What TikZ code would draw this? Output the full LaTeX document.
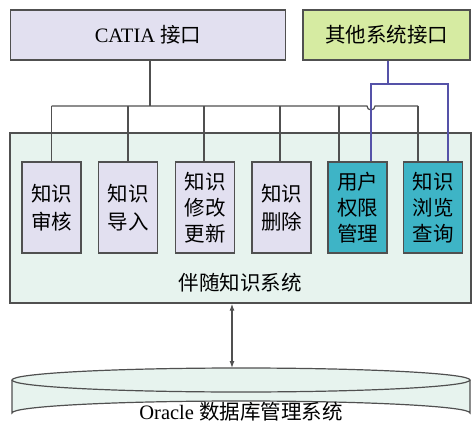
\documentclass[tikz,border=0pt]{standalone}
\usepackage{fontspec}
\setmainfont{Liberation Serif}
\newfontfamily\cjk{Noto Sans CJK SC}
\usetikzlibrary{positioning,arrows.meta}

\definecolor{lav}{HTML}{E2E0F0}
\definecolor{lime}{HTML}{D6EBA2}
\definecolor{pale}{HTML}{E7F3EE}
\definecolor{teal}{HTML}{3EB4C6}
\definecolor{wire}{HTML}{505050}
\definecolor{bluewire}{HTML}{5552A8}

\begin{document}
\begin{tikzpicture}[x=1pt,y=-1pt,
    box/.style={draw=wire,line width=1.3pt,inner sep=0pt,align=center,
                font=\fontsize{20.5}{28}\selectfont},
    modbox/.style={box,fill=lav,minimum width=59,minimum height=91},
    hotbox/.style={modbox,fill=teal},
    line/.style={draw=wire,line width=1.2pt},
    blueline/.style={draw=bluewire,line width=1.2pt},
    >={Latex[length=7pt,width=5pt]}]
    \useasboundingbox (0,0) rectangle (473,430);

    % interfaces
    \node[box,fill=lav,minimum width=275,minimum height=50] (catia) at (148,35) {CATIA {\cjk 接口}};
    \node[box,fill=lime,minimum width=167,minimum height=50] (other) at (386.5,35) {\cjk 其他系统接口};

    % system frame
    \node[box,fill=pale,minimum width=461,minimum height=170] (sys) at (240.5,218) {};
    \node[font=\fontsize{20.5}{28}\selectfont\cjk] (syslabel) at (240,283) {伴随知识系统};

    % modules
    \node[modbox] (m1) at (51.5,207.5) {\cjk 知识\\\cjk 审核};
    \node[modbox] (m2) at (128,207.5) {\cjk 知识\\\cjk 导入};
    \node[modbox,font=\fontsize{20.5}{26}\selectfont] (m3) at (205,207.5) {\cjk 知识\\\cjk 修改\\\cjk 更新};
    \node[modbox] (m4) at (281.5,207.5) {\cjk 知识\\\cjk 删除};
    \node[hotbox,font=\fontsize{20.5}{26}\selectfont] (m5) at (357.5,207.5) {\cjk 用户\\\cjk 权限\\\cjk 管理};
    \node[hotbox,font=\fontsize{20.5}{26}\selectfont] (m6) at (433,207.5) {\cjk 知识\\\cjk 浏览\\\cjk 查询};

    % CATIA bus
    \coordinate (bus) at (150,106);
    \coordinate (hop) at (371,106);
    \draw[line] (catia.south -| bus) -- (bus);
    \draw[line] (m1.north |- bus) -- ([xshift=-4]hop) arc (180:0:4) -- ([xshift=-15]m6.north |- bus);
    \draw[line] (m1.north) -- (m1.north |- bus);
    \draw[line] (m2.north) -- (m2.north |- bus);
    \draw[line] ([xshift=-1]m3.north) -- ([xshift=-1]m3.north |- bus);
    \draw[line] ([xshift=-1.5]m4.north) -- ([xshift=-1.5]m4.north |- bus);
    \draw[line] ([xshift=-18.5]m5.north) -- ([xshift=-18.5]m5.north |- bus);
    \draw[line] ([xshift=-15]m6.north) -- ([xshift=-15]m6.north |- bus);

    % other-system bus
    \coordinate (fork) at (388,84);
    \draw[blueline] ([xshift=1.5]other.south) -- ([xshift=1.5]other.south |- fork);
    \draw[blueline] ([xshift=13.5]m5.north) -- ([xshift=13.5]m5.north |- fork)
        -- ([xshift=15]m6.north |- fork) -- ([xshift=15]m6.north);

    % database
    \fill[pale] (12,380) -- (12,413) arc (180:360:229 and 12) -- (470,380) arc (0:-180:229 and 12) -- cycle;
    \draw[line] (12,380) -- (12,413) arc (180:360:229 and 12) -- (470,380);
    \draw[line] (241,380) ellipse (229 and 12);
    \node[font=\fontsize{20.5}{28}\selectfont] (db) at (241,412) {Oracle {\cjk 数据库管理系统}};
    \coordinate (dbtop) at (232,368);
    \draw[line,<->] (sys.south -| dbtop) -- (dbtop);
\end{tikzpicture}
\end{document}
